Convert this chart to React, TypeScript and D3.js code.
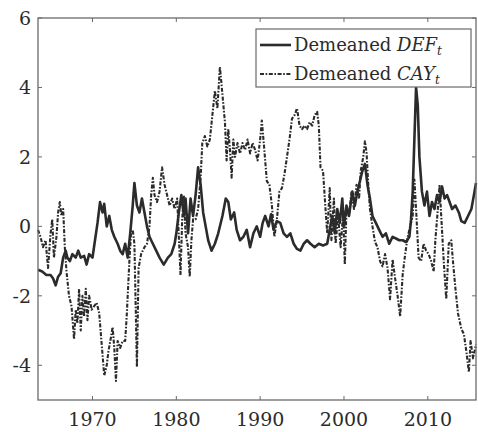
import * as d3 from "d3";

const W = 478;
const H = 432;
const MARGIN = { top: 18, right: 2, bottom: 32, left: 38 };

// [year, value] (quarterly-ish knots)
const defSeries: [number, number][] = [
  [1963.5, -1.25], [1964.0, -1.3], [1964.5, -1.4], [1965.0, -1.4], [1965.3, -1.5],
  [1965.6, -1.7], [1965.9, -1.45], [1966.2, -1.35], [1966.5, -0.9], [1966.8, -0.7],
  [1967.0, -0.9], [1967.3, -1.0], [1967.6, -0.8], [1968.0, -0.9], [1968.3, -0.7],
  [1968.6, -0.9], [1969.0, -0.85], [1969.3, -1.1], [1969.6, -0.8], [1970.0, -0.9],
  [1970.3, -0.4], [1970.6, 0.1], [1970.9, 0.7], [1971.2, 0.4], [1971.4, 0.65],
  [1971.7, 0.0], [1972.0, 0.3], [1972.3, -0.1], [1972.6, -0.3], [1973.0, -0.5],
  [1973.3, -0.7], [1973.6, -0.8], [1973.9, -0.5], [1974.2, -0.9], [1974.5, -0.2],
  [1974.8, 0.6], [1975.0, 1.25], [1975.3, 0.6], [1975.6, 0.4], [1975.9, 0.8],
  [1976.2, 0.4], [1976.5, 0.0], [1976.8, -0.3], [1977.2, -0.5], [1977.6, -0.7],
  [1978.0, -0.9], [1978.5, -1.1], [1979.0, -0.9], [1979.4, -0.8], [1979.8, -0.5],
  [1980.0, -0.2], [1980.3, 0.4], [1980.6, 0.9], [1980.9, 0.3], [1981.1, 0.8],
  [1981.4, -0.2], [1981.7, 0.8], [1982.0, 0.3], [1982.3, 0.9], [1982.6, 1.7],
  [1982.9, 1.2], [1983.2, 0.4], [1983.5, 0.0], [1983.8, -0.4], [1984.2, -0.7],
  [1984.6, -0.5], [1985.0, -0.2], [1985.5, 0.3], [1985.9, 0.8], [1986.2, 0.7],
  [1986.5, 0.2], [1986.9, 0.4], [1987.2, -0.1], [1987.6, -0.4], [1988.0, -0.3],
  [1988.4, -0.1], [1988.8, -0.6], [1989.2, -0.2], [1989.6, 0.0], [1990.0, -0.3],
  [1990.3, 0.1], [1990.6, 0.3], [1991.0, 0.0], [1991.3, 0.35], [1991.6, -0.1],
  [1992.0, 0.15], [1992.4, 0.1], [1992.8, -0.2], [1993.2, -0.3], [1993.6, -0.2],
  [1994.0, -0.5], [1994.4, -0.65], [1994.8, -0.7], [1995.2, -0.5], [1995.6, -0.4],
  [1996.0, -0.5], [1996.5, -0.6], [1997.0, -0.5], [1997.5, -0.55], [1998.0, -0.5],
  [1998.3, -0.1], [1998.6, 0.3], [1998.9, -0.2], [1999.2, 0.5], [1999.5, 0.1],
  [1999.8, 0.8], [2000.0, 0.0], [2000.3, 0.6], [2000.6, 0.3], [2001.0, 1.0],
  [2001.3, 0.6], [2001.6, 1.0], [2001.9, 1.3], [2002.2, 1.6], [2002.5, 1.8],
  [2002.8, 1.2], [2003.1, 0.8], [2003.4, 0.3], [2003.8, 0.1], [2004.2, -0.1],
  [2004.6, -0.3], [2005.0, -0.2], [2005.4, -0.5], [2005.8, -0.3], [2006.2, -0.35],
  [2006.6, -0.4], [2007.0, -0.4], [2007.4, -0.45], [2007.8, -0.3], [2008.0, 0.2],
  [2008.2, 1.0], [2008.4, 2.5], [2008.6, 4.0], [2008.8, 3.5], [2009.0, 2.0],
  [2009.3, 1.0], [2009.6, 0.6], [2009.9, 1.0], [2010.2, 0.3], [2010.5, 0.7],
  [2010.8, 0.5], [2011.1, 0.9], [2011.4, 0.7], [2011.7, 1.15], [2012.0, 0.8],
  [2012.3, 0.9], [2012.6, 0.7], [2012.9, 0.5], [2013.3, 0.6], [2013.7, 0.4],
  [2014.0, 0.15], [2014.4, 0.1], [2014.8, 0.3], [2015.2, 0.5], [2015.5, 0.9],
  [2015.75, 1.25],
];

const caySeries: [number, number][] = [
  [1963.5, -0.1], [1963.8, -0.3], [1964.1, -0.6], [1964.4, -0.4], [1964.7, -1.2],
  [1965.0, -0.2], [1965.2, 0.2], [1965.4, -0.9], [1965.7, -0.3], [1965.9, 0.4],
  [1966.1, 0.7], [1966.3, 0.3], [1966.5, 0.5], [1966.7, -0.6], [1966.9, -1.3],
  [1967.2, -2.0], [1967.5, -2.3], [1967.8, -3.25], [1968.0, -2.4], [1968.2, -2.8],
  [1968.4, -1.8], [1968.6, -3.0], [1968.8, -2.0], [1969.0, -2.6], [1969.2, -1.8],
  [1969.4, -2.7], [1969.6, -2.0], [1969.9, -2.4], [1970.2, -2.3], [1970.5, -2.2],
  [1970.8, -2.5], [1971.1, -3.4], [1971.4, -4.3], [1971.7, -4.0], [1971.9, -3.6],
  [1972.2, -3.2], [1972.4, -2.9], [1972.6, -3.5], [1972.8, -4.45], [1973.0, -3.3],
  [1973.3, -3.5], [1973.6, -3.3], [1973.9, -3.3], [1974.1, -2.5], [1974.4, -1.0],
  [1974.6, -0.2], [1974.8, -0.1], [1975.0, -0.5], [1975.3, -4.05], [1975.5, -1.2],
  [1975.8, -0.8], [1976.2, -0.6], [1976.5, -0.5], [1976.8, 0.0], [1977.0, 0.9],
  [1977.2, 1.4], [1977.4, 0.9], [1977.7, 0.7], [1978.0, 1.0], [1978.3, 1.7],
  [1978.6, 1.2], [1978.9, 0.9], [1979.2, 0.6], [1979.5, 0.8], [1979.8, 0.5],
  [1980.1, 0.8], [1980.3, -0.3], [1980.5, -1.4], [1980.7, 0.2], [1980.9, 0.9],
  [1981.1, -0.2], [1981.4, -0.6], [1981.6, -1.45], [1981.8, -0.4], [1982.0, 0.2],
  [1982.3, 0.2], [1982.6, 0.5], [1982.9, 1.4], [1983.1, 2.4], [1983.4, 2.6],
  [1983.7, 2.3], [1984.0, 2.5], [1984.3, 3.2], [1984.6, 3.9], [1984.9, 3.4],
  [1985.2, 4.6], [1985.5, 3.8], [1985.8, 3.0], [1986.0, 1.9], [1986.2, 2.8],
  [1986.4, 2.2], [1986.6, 1.4], [1986.8, 2.5], [1987.0, 2.0], [1987.3, 2.4],
  [1987.6, 2.1], [1987.9, 2.4], [1988.2, 2.2], [1988.5, 2.5], [1988.8, 2.1],
  [1989.1, 2.4], [1989.4, 2.2], [1989.7, 1.9], [1990.0, 2.5], [1990.2, 3.05],
  [1990.5, 2.2], [1990.8, 1.3], [1991.1, 1.2], [1991.4, 0.6], [1991.7, -0.3],
  [1992.0, 0.2], [1992.3, 1.0], [1992.6, 1.1], [1992.9, 1.5], [1993.2, 2.0],
  [1993.5, 2.5], [1993.8, 3.1], [1994.1, 3.2], [1994.4, 3.4], [1994.7, 2.9],
  [1995.0, 2.8], [1995.3, 2.9], [1995.6, 2.8], [1995.9, 3.0], [1996.2, 2.9],
  [1996.5, 3.2], [1996.8, 3.3], [1997.0, 2.9], [1997.2, 1.7], [1997.5, 1.6],
  [1997.8, 0.5], [1998.0, -0.2], [1998.3, 1.1], [1998.5, -0.4], [1998.8, 0.8],
  [1999.0, -0.5], [1999.3, 0.3], [1999.6, -0.6], [1999.9, 0.4], [2000.1, -1.1],
  [2000.3, 0.5], [2000.6, 0.3], [2000.9, 1.0], [2001.2, 0.5], [2001.5, 1.2],
  [2001.8, 0.8], [2002.0, 1.6], [2002.3, 2.0], [2002.5, 2.45], [2002.7, 2.1],
  [2002.9, 1.2], [2003.1, 0.5], [2003.4, 0.0], [2003.7, -0.45], [2004.0, -0.6],
  [2004.3, -1.0], [2004.6, -1.15], [2004.9, -0.8], [2005.2, -1.2], [2005.5, -2.1],
  [2005.8, -0.95], [2006.1, -1.5], [2006.4, -2.0], [2006.7, -2.6], [2007.0, -1.4],
  [2007.3, -0.8], [2007.6, -0.3], [2007.9, 0.0], [2008.2, 0.3], [2008.4, 1.35],
  [2008.6, 0.5], [2008.9, -0.9], [2009.2, -1.0], [2009.5, -0.5], [2009.8, -0.7],
  [2010.1, -0.8], [2010.4, -1.0], [2010.7, -1.3], [2010.9, -0.4], [2011.2, 0.5],
  [2011.4, 1.2], [2011.6, 0.3], [2011.9, -1.0], [2012.2, -2.1], [2012.5, -0.5],
  [2012.8, -0.4], [2013.0, -1.0], [2013.3, -1.8], [2013.6, -2.5], [2014.0, -2.95],
  [2014.3, -3.1], [2014.6, -3.6], [2014.9, -4.2], [2015.1, -3.3], [2015.4, -3.8],
  [2015.75, -3.4],
];

const xTicks = [1970, 1980, 1990, 2000, 2010];
const yTicks = [-4, -2, 0, 2, 4, 6];
const xDomain = [1963.5, 2015.75];
const yDomain = [-5, 6];

const FONT = '"DejaVu Serif", serif';
const INK = "#2b2b2b";
const AXIS = "#6a6a6a";
const DASH = "4,1.6,1.6,1.6";

export default function App() {
  const innerW = W - MARGIN.left - MARGIN.right;
  const innerH = H - MARGIN.top - MARGIN.bottom;
  const x = d3.scaleLinear().domain(xDomain).range([0, innerW]);
  const y = d3.scaleLinear().domain(yDomain).range([innerH, 0]);
  const line = d3
    .line<[number, number]>()
    .x((d) => x(d[0]))
    .y((d) => y(d[1]));

  return (
    <svg
      width={W}
      height={H}
      style={{ position: "absolute", left: 0, top: 0, background: "#fff", fontFamily: FONT }}
    >
      <g transform={`translate(${MARGIN.left},${MARGIN.top})`}>
        {/* series */}
        <path
          d={line(caySeries) ?? ""}
          fill="none"
          stroke={INK}
          strokeWidth={2.1}
          strokeDasharray={DASH}
          strokeLinejoin="round"
        />
        <path
          d={line(defSeries) ?? ""}
          fill="none"
          stroke={INK}
          strokeWidth={2.6}
          strokeLinejoin="round"
        />
        {/* box */}
        <rect x={0} y={0} width={innerW} height={innerH} fill="none" stroke={AXIS} strokeWidth={1.3} />
        {xTicks.map((t) => (
          <g key={`tx-${t}`} transform={`translate(${x(t)},0)`}>
            <line y1={innerH} y2={innerH - 4} stroke={AXIS} />
            <line y1={0} y2={4} stroke={AXIS} />
            <text y={innerH + 26} fontSize={19} textAnchor="middle" fill={INK}>
              {t}
            </text>
          </g>
        ))}
        {yTicks.map((t) => (
          <g key={`ty-${t}`} transform={`translate(0,${y(t)})`}>
            <line x1={0} x2={4} stroke={AXIS} />
            <line x1={innerW} x2={innerW - 4} stroke={AXIS} />
            <text x={-7} y={7} fontSize={19} textAnchor="end" fill={INK}>
              {t}
            </text>
          </g>
        ))}
      </g>
      {/* legend */}
      <g transform="translate(256,29)">
        <rect width={215} height={58} fill="#fff" stroke={AXIS} strokeWidth={1.2} />
        <line x1={4} x2={35} y1={16} y2={16} stroke={INK} strokeWidth={2.6} />
        <line x1={4} x2={35} y1={45} y2={45} stroke={INK} strokeWidth={2.1} strokeDasharray={DASH} />
        <text x={38} y={22} fontSize={18} fill={INK}>
          Demeaned <tspan fontStyle="italic">DEF</tspan>
          <tspan fontSize={12} fontStyle="italic" dy={4}>t</tspan>
        </text>
        <text x={38} y={51} fontSize={18} fill={INK}>
          Demeaned <tspan fontStyle="italic">CAY</tspan>
          <tspan fontSize={12} fontStyle="italic" dy={4}>t</tspan>
        </text>
      </g>
    </svg>
  );
}
